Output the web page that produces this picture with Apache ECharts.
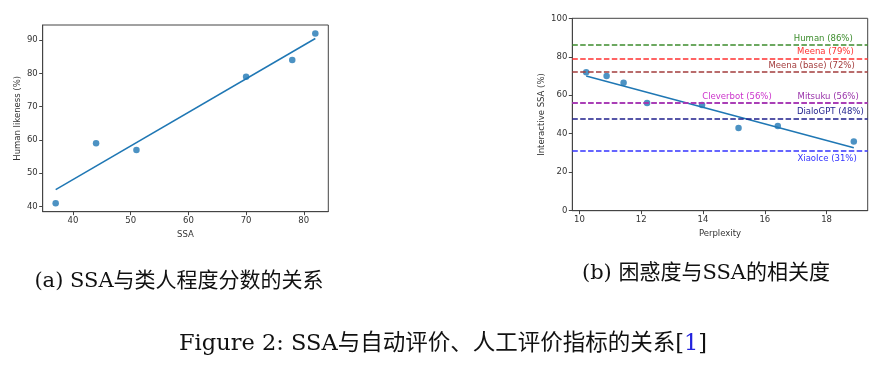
<!DOCTYPE html>
<html><head><meta charset="utf-8">
<script src="https://cdn.jsdelivr.net/npm/echarts@6/dist/echarts.min.js"></script>
<style>html,body{margin:0;padding:0;background:#fff}#c{width:889px;height:372px}</style>
</head><body><div id="c"></div>
<script>
// (a) SSA vs human likeness
const ssaA = [37, 44, 51, 70, 78, 82];
const humanA = [41, 59, 57, 79, 84, 92];
const fitAx = [37, 82];
const fitAy = [45.1, 90.5];
const ticksAx = [40, 50, 60, 70, 80];
const ticksAy = [40, 50, 60, 70, 80, 90];
// (b) perplexity vs interactive SSA
const pplB = [10.22, 10.88, 11.43, 12.19, 13.97, 15.15, 16.42, 18.88];
const ssaB = [72, 70, 66.5, 56, 55, 43, 44, 36];
const fitBx = [10.22, 18.88];
const fitBy = [70.0, 32.7];
const ticksBx = [10, 12, 14, 16, 18];
const ticksBy = [0, 20, 40, 60, 80, 100];
const botNames = ['Human', 'Meena', 'Meena (base)', 'Cleverbot', 'Mitsuku', 'DialoGPT', 'XiaoIce'];
const botSSA = [86, 79, 72, 56, 56, 48, 31];
const botColors = ['#3c8c2c', '#ff3030', '#a33c3c', '#cc33cc', '#9933aa', '#1e1e8c', '#3333ff'];
const botLabelPos = ['insideEndTop','insideEndTop','insideEndTop','insideStartTop','insideEndTop','insideEndTop','insideEndBottom'];
const botLabelDist = [[15,2],[14,2],[13,2],[130,2],[9,2],[4,2],[11,3]];

const C0 = '#1f77b4';
const sans = '"DejaVu Sans", sans-serif';
const serif = '"DejaVu Serif", "Liberation Serif", "Noto Sans CJK SC", serif';
const axisCol = '#444';
const tickFont = {fontSize: 8.5, color: '#333', fontFamily: sans};

function mkX(grid, min, max, ticks, name, gap) {
  return {gridIndex: grid, type: 'value', min: min, max: max,
    name: name, nameLocation: 'middle', nameGap: gap,
    nameTextStyle: {fontSize: 8.5, color: '#333', fontFamily: sans},
    axisLine: {show: true, onZero: false, lineStyle: {color: axisCol}},
    axisTick: {show: true, length: 3.5, customValues: ticks, lineStyle: {color: axisCol}},
    axisLabel: Object.assign({customValues: ticks, margin: 5}, tickFont),
    splitLine: {show: false}};
}
function mkY(grid, min, max, ticks, name, gap) {
  return {gridIndex: grid, type: 'value', min: min, max: max,
    name: name, nameLocation: 'middle', nameGap: gap,
    nameTextStyle: {fontSize: 8.5, color: '#333', fontFamily: sans},
    axisLine: {show: true, onZero: false, lineStyle: {color: axisCol}},
    axisTick: {show: true, length: 3.5, customValues: ticks, lineStyle: {color: axisCol}},
    axisLabel: Object.assign({customValues: ticks, margin: 5}, tickFont),
    splitLine: {show: false}};
}

const markData = botNames.map((n, i) => ({
  yAxis: botSSA[i],
  lineStyle: {color: botColors[i], type: [5.5, 2.4], width: 1.5},
  label: {show: true, formatter: n + ' (' + botSSA[i] + '%)', position: botLabelPos[i],
    distance: botLabelDist[i], color: botColors[i], fontSize: 8.5, fontFamily: sans}
}));

const chart = echarts.init(document.getElementById('c'), null, {renderer: 'canvas'});
chart.setOption({
  animation: false,
  backgroundColor: '#fff',
  title: [
    {text: '(a) SSA与类人程度分数的关系', left: 174, top: 266, textAlign: 'center',
      textStyle: {fontSize: 21, fontWeight: 'normal', color: '#111', fontFamily: serif}},
    {text: '(b) 困惑度与SSA的相关度', left: 701, top: 258, textAlign: 'center',
      textStyle: {fontSize: 21, fontWeight: 'normal', color: '#111', fontFamily: serif}},
    {text: 'Figure 2: SSA与自动评价、人工评价指标的关系[{b|1}]', left: 438, top: 328, textAlign: 'center',
      textStyle: {fontSize: 22.5, fontWeight: 'normal', color: '#111', fontFamily: serif,
        rich: {b: {fontSize: 22.5, color: '#2222dd', fontFamily: serif}}}}
  ],
  grid: [
    {left: 42.7, top: 25, width: 285.6, height: 186.7, show: true, borderColor: axisCol, borderWidth: 1, backgroundColor: 'transparent'},
    {left: 572.3, top: 18.3, width: 295.4, height: 192.4, show: true, borderColor: axisCol, borderWidth: 1, backgroundColor: 'transparent'}
  ],
  xAxis: [
    mkX(0, 34.75, 84.25, ticksAx, 'SSA', 16),
    mkX(1, 9.77, 19.33, ticksBx, 'Perplexity', 16)
  ],
  yAxis: [
    mkY(0, 38.45, 94.55, ticksAy, 'Human likeness (%)', 20),
    mkY(1, 0, 100, ticksBy, 'Interactive SSA (%)', 26)
  ],
  series: [
    {type: 'line', xAxisIndex: 0, yAxisIndex: 0, data: fitAx.map((x, i) => [x, fitAy[i]]),
      showSymbol: false, symbol: 'none', lineStyle: {color: C0, width: 1.5}, z: 2},
    {type: 'scatter', xAxisIndex: 0, yAxisIndex: 0, data: ssaA.map((x, i) => [x, humanA[i]]),
      symbolSize: 6.5, itemStyle: {color: C0}, z: 3},
    {type: 'line', xAxisIndex: 1, yAxisIndex: 1, data: [], symbol: 'none',
      markLine: {silent: true, symbol: 'none', data: markData}, z: 1},
    {type: 'line', xAxisIndex: 1, yAxisIndex: 1, data: fitBx.map((x, i) => [x, fitBy[i]]),
      showSymbol: false, symbol: 'none', lineStyle: {color: C0, width: 1.5}, z: 2},
    {type: 'scatter', xAxisIndex: 1, yAxisIndex: 1, data: pplB.map((x, i) => [x, ssaB[i]]),
      symbolSize: 6.5, itemStyle: {color: C0}, z: 3}
  ]
});
</script></body></html>
